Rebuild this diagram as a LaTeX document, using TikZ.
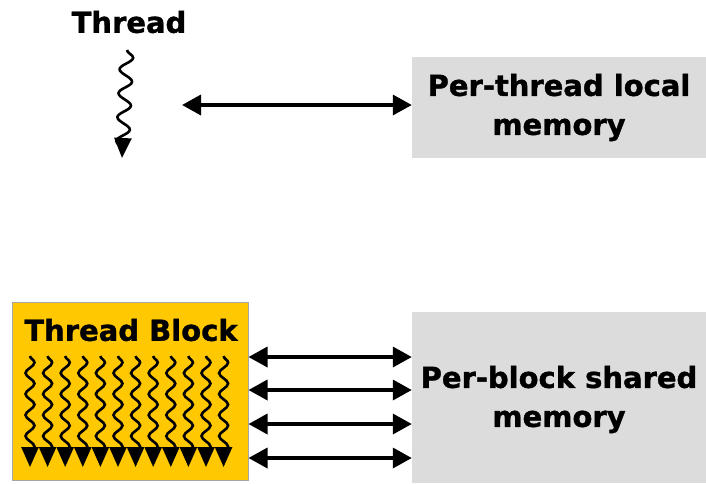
\documentclass[tikz,border=0pt]{standalone}
\usepackage{fontspec}
\setmainfont{DejaVu Sans}[BoldFeatures={FakeBold=1.2}]
\usetikzlibrary{arrows.meta,decorations.pathmorphing}
\definecolor{memgray}{HTML}{DCDCDC}
\definecolor{blockyellow}{HTML}{FFC800}
\tikzset{
  lbl/.style={font=\bfseries\fontsize{29}{39}\selectfont, inner sep=0pt, align=center},
  membox/.style={fill=memgray, draw=none, minimum width=294pt, inner sep=0pt},
  link/.style={line width=3.5pt, {Triangle[length=19pt,width=20pt]}-{Triangle[length=19pt,width=20pt]}},
  wavy/.style 2 args={line width=2.6pt, decorate, decoration={snake, segment length=#1, amplitude=#2, post=lineto, post length=4pt}},
  wavytip/.style={-{Triangle[length=20pt,width=17pt]}}
}
\begin{document}
\begin{tikzpicture}[x=1pt,y=-1pt]
\useasboundingbox (0,0) rectangle (706,483);

% single thread and its local memory
\node[lbl] (thr) at (129,22) {Thread};
\coordinate (thrA) at (127,50);
\coordinate (thrB) at (122,158);
\draw[wavy={24pt}{6.5pt}, wavytip] (thrA) -- (thrB);

\node[membox, minimum height=101pt] (local) at (559,107.5) {};
\node[lbl] at (local.center) {Per-thread local\\memory};
\coordinate (localL) at (182,105);
\draw[link] (localL) -- (localL -| local.west);

% thread block and its shared memory
\node[fill=blockyellow, draw=gray!70, line width=1pt, minimum width=236pt, minimum height=178pt, inner sep=0pt] (blk) at (130,391) {};
\node[lbl] (blkt) at (131,330) {Thread Block};
\foreach \i in {0,...,11} {
  \coordinate (t\i a) at ({30+17.6*\i},356);
  \coordinate (t\i b) at ({30+17.6*\i},467);
  \draw[wavy={21pt}{4.5pt}, wavytip] (t\i a) -- (t\i b);
}

\node[membox, minimum height=171pt] (shared) at (559,397.5) {};
\node[lbl] at ([yshift=-2pt]shared.center) {Per-block shared\\memory};
\foreach \y in {357,390,424,458} {
  \coordinate (s\y) at (blk.east |- 0,\y);
  \draw[link] (s\y) -- (s\y -| shared.west);
}
\end{tikzpicture}
\end{document}
